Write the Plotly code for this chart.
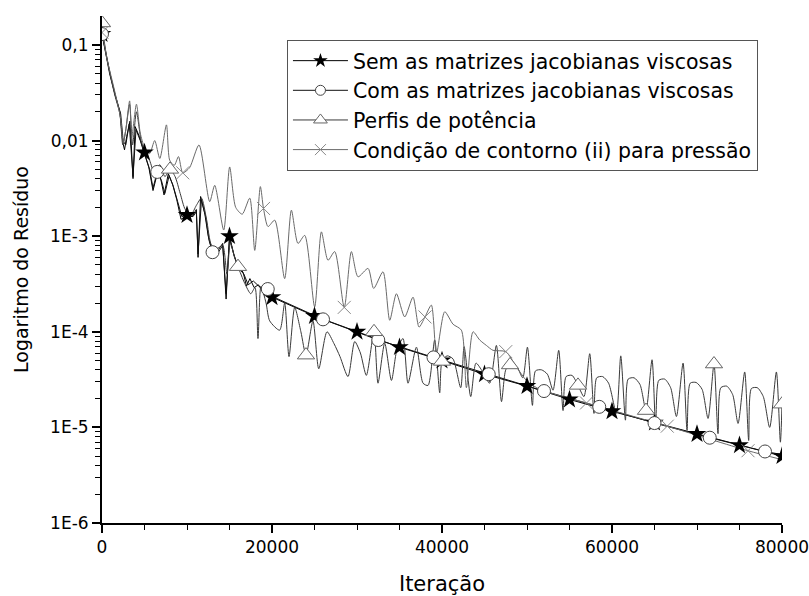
import plotly.graph_objects as go

# ---------------- data ----------------
# "Sem as matrizes jacobianas viscosas" (black line, stars)
sem_x = [0, 300, 500, 900, 1500, 2100, 2450, 2650, 2900, 3300, 3650, 3900, 4400, 5000,
         5500, 6000, 6500, 6900, 7300, 7800, 8300, 8800, 9300, 10000, 10600, 11100, 11300,
         11600, 12100, 12500, 13000, 13500, 14200, 14600, 15000, 15500, 16000, 16600, 17000,
         17400, 17900, 18400, 19000, 19500, 20000, 25000, 30000, 35000, 40000, 45000, 50000,
         55000, 60000, 65000, 70000, 75000, 80000]
sem_y = [0.13, 0.095, 0.076, 0.05, 0.031, 0.02, 0.0095, 0.008, 0.011, 0.016, 0.004, 0.014,
         0.011, 0.0075, 0.0053, 0.003, 0.0045, 0.004, 0.0027, 0.0045, 0.0035, 0.0024, 0.0015,
         0.00166, 0.0016, 0.0019, 0.0006, 0.0026, 0.0017, 0.001, 0.00068, 0.00068, 0.00084,
         0.00022, 0.001, 0.00065, 0.00048, 0.00042, 0.0003, 0.00036, 0.00029, 0.00031, 0.00026,
         0.00028, 0.00023, 1.46e-4, 1.0e-4, 6.9e-5, 5.0e-5, 3.6e-5, 2.7e-5, 1.96e-5, 1.47e-5,
         1.12e-5, 8.5e-6, 6.5e-6, 5.0e-6]
sem_mx = [0, 5000, 10000, 15000, 20000, 25000, 30000, 35000, 40000, 45000, 50000, 55000,
          60000, 65000, 70000, 75000, 80000]
sem_my = [0.13, 0.0075, 0.00166, 0.001, 2.3e-4, 1.46e-4, 1.0e-4, 6.9e-5, 5.0e-5, 3.6e-5,
          2.7e-5, 1.96e-5, 1.47e-5, 1.12e-5, 8.5e-6, 6.5e-6, 5.0e-6]

# "Com as matrizes jacobianas viscosas" (black line, circles)
com_x = [0, 300, 600, 1000, 1600, 2200, 2500, 2800, 3200, 3650, 4000, 4500, 5000, 5600,
         6000, 6500, 7000, 7400, 7900, 8400, 8900, 9400, 10000, 10700, 11100, 11300, 11700,
         12200, 12600, 13000, 13600, 14200, 14600, 15000, 15600, 16100, 16700, 17200, 17800,
         18500, 19000, 19500, 20000, 26000, 32500, 39000, 45500, 52000, 58500, 65000, 71500,
         78000, 80000]
com_y = [0.13, 0.094, 0.068, 0.048, 0.029, 0.019, 0.0098, 0.009, 0.015, 0.0042, 0.013,
         0.01, 0.0072, 0.005, 0.0032, 0.0047, 0.0038, 0.0028, 0.0043, 0.0033, 0.0023, 0.0016,
         0.0017, 0.0016, 0.0018, 0.00065, 0.0024, 0.0016, 0.0009, 0.00068, 0.00066, 0.0008,
         0.00025, 0.00095, 0.0006, 0.00046, 0.0004, 0.00031, 0.00034, 0.0003, 0.00027,
         0.00028, 2.35e-4, 1.35e-4, 8.2e-5, 5.4e-5, 3.6e-5, 2.4e-5, 1.64e-5, 1.11e-5, 7.8e-6,
         5.6e-6, 5.2e-6]
com_mx = [0, 6500, 13000, 19500, 26000, 32500, 39000, 45500, 52000, 58500, 65000, 71500,
          78000]
com_my = [0.13, 0.0047, 0.00068, 0.00028, 1.35e-4, 8.2e-5, 5.4e-5, 3.6e-5, 2.4e-5,
          1.64e-5, 1.11e-5, 7.8e-6, 5.6e-6]

# "Perfis de potência" (dark grey line, triangles)
perf_x = [0, 200, 500, 900, 1500, 2100, 2450, 2800, 3250, 3600, 4050, 4600, 5000, 5600,
          6200, 6800, 7400, 8000, 8600, 9200, 9800, 10500, 11100, 11700, 12300, 12900,
          13600, 14200, 14700, 15100, 15600, 16000, 16800, 17500, 18000, 18350, 18700,
          19300, 19730, 20900, 21490, 22000, 22670, 23400, 24000, 24820, 25500, 26470,
          27300, 28000, 28940, 29730, 30400, 31100, 32000, 32470, 33260, 34050, 34700,
          35410, 36000, 36990, 37770, 38360, 39140, 39730, 40000, 40600, 41300, 42200,
          42600, 43380, 44000, 44800, 45600, 46400, 47000, 47500, 48000, 48800, 49500,
          50050, 50640, 51000, 51700, 52400, 53060, 53730, 54240, 54600, 55300, 56000,
          56700, 57380, 57880, 58200, 58900, 59600, 60520, 61030, 61580, 61900, 62600,
          63300, 64000, 64710, 65140, 65500, 66200, 66900, 67580, 68360, 68830, 69200,
          69900, 70600, 71300, 72000, 72470, 72800, 73500, 74200, 74830, 75610, 76080,
          76400, 77100, 77800, 78550, 79340, 79810, 80000]
perf_y = [0.17, 0.12, 0.08, 0.052, 0.03, 0.019, 0.009, 0.013, 0.024, 0.009, 0.02, 0.01,
          0.0078, 0.0062, 0.0045, 0.0056, 0.0042, 0.005, 0.0042, 0.0028, 0.0019, 0.0017,
          0.0021, 0.0025, 0.0015, 0.0008, 0.00075, 0.0008, 0.0004, 0.00085, 0.0006, 0.00048,
          0.00032, 0.00025, 0.00029, 8.5e-5, 0.0003, 0.0002, 0.00013, 1.04e-4, 2.0e-4,
          5.5e-5, 1.8e-4, 1.0e-4, 5.7e-5, 1.3e-4, 4.1e-5, 1.0e-4, 7.5e-5, 5.5e-5, 3.4e-5,
          7.9e-5, 6.0e-5, 3.5e-5, 1.0e-4, 2.9e-5, 7.6e-5, 3.1e-5, 6.5e-5, 8.5e-5, 2.9e-5,
          6.9e-5, 2.9e-5, 2.75e-5, 8.2e-5, 2.3e-5, 4.9e-5, 5.6e-5, 5.2e-5, 2.6e-5, 7.0e-5,
          2.1e-5, 4.7e-5, 3.8e-5, 2.9e-5, 7.2e-5, 1.86e-5, 4.0e-5, 4.5e-5, 4.3e-5, 3.3e-5,
          6.9e-5, 1.7e-5, 3.9e-5, 4.0e-5, 3.6e-5, 2.45e-5, 6.4e-5, 1.5e-5, 3.4e-5, 3.5e-5,
          2.75e-5, 2.1e-5, 5.9e-5, 1.4e-5, 3.3e-5, 3.4e-5, 2.9e-5, 1.4e-5, 5.6e-5, 1.19e-5,
          3.2e-5, 3.3e-5, 2.8e-5, 1.5e-5, 5.1e-5, 1.0e-5, 3.1e-5, 3.2e-5, 2.6e-5, 1.3e-5,
          4.7e-5, 9.3e-6, 2.9e-5, 2.95e-5, 2.5e-5, 1.24e-5, 4.6e-5, 8.6e-6, 2.6e-5, 2.7e-5,
          2.2e-5, 1.1e-5, 3.8e-5, 7.3e-6, 2.55e-5, 2.6e-5, 2.1e-5, 1.0e-5, 3.8e-5, 7.0e-6,
          1.75e-5]
perf_mx = [0, 8000, 16000, 24000, 32000, 40000, 48000, 56000, 64000, 72000, 80000]
perf_my = [0.17, 0.005, 0.00048, 5.7e-5, 1.0e-4, 4.9e-5, 4.5e-5, 2.75e-5, 1.5e-5, 4.6e-5,
           1.75e-5]

# "Condição de contorno (ii) para pressão" (grey line, crosses)
cond_x = [0, 300, 600, 1000, 1600, 2200, 2500, 2800, 3250, 3500, 4050, 4500, 5000, 5600,
          6200, 6800, 7580, 7960, 8500, 9000, 9500, 10300, 11410, 12670, 13260, 14320,
          15020, 15730, 16500, 17380, 17970, 18630, 19000, 19530, 20320, 21490, 22280,
          23060, 23850, 25020, 25810, 26590, 27380, 28500, 29340, 30120, 31300, 31960,
          33060, 33850, 34640, 35610, 36590, 37300, 38000, 38750, 39340, 40320, 41300,
          42280, 42870, 43650, 44440, 45220, 46000, 47500, 48750, 49930, 51500, 57000,
          66500, 76000, 80000]
cond_y = [0.135, 0.1, 0.07, 0.05, 0.03, 0.017, 0.0095, 0.013, 0.026, 0.011, 0.024, 0.012,
          0.0085, 0.0073, 0.01, 0.0065, 0.0146, 0.00625, 0.0055, 0.0068, 0.0046, 0.0052,
          0.009, 0.0023, 0.0034, 0.00116, 0.0053, 0.002, 0.0017, 0.0025, 0.00071, 0.0033,
          0.00195, 0.00126, 0.00147, 0.00036, 0.00187, 0.00084, 0.00102, 0.000182, 0.00111,
          0.00056, 0.00069, 0.00018, 0.00069, 0.000376, 0.00046, 0.000284, 0.000424,
          0.000132, 0.00025, 0.000143, 0.00023, 0.000112, 0.000143, 0.00019, 5.9e-5,
          0.000162, 0.00012, 0.000104, 2.6e-5, 0.0001, 8.2e-5, 7.2e-5, 6.4e-5, 6.2e-5,
          4.3e-5, 3.1e-5, 2.5e-5, 1.8e-5, 1.03e-5, 5.7e-6, 4.6e-6]
cond_mx = [0, 9500, 19000, 28500, 38000, 47500, 57000, 66500, 76000]
cond_my = [0.135, 0.0046, 0.00195, 0.00018, 0.000143, 6.2e-5, 1.8e-5, 1.03e-5, 5.7e-6]

names = ["Sem as matrizes jacobianas viscosas",
         "Com as matrizes jacobianas viscosas",
         "Perfis de potência",
         "Condição de contorno (ii) para pressão"]

y_tickvals = [1e-6, 1e-5, 1e-4, 1e-3, 1e-2, 1e-1]
y_ticktext = ["1E-6", "1E-5", "1E-4", "1E-3", "0,01", "0,1"]
x_tickvals = [0, 20000, 40000, 60000, 80000]

# ---------------- figure ----------------
FONT = "DejaVu Sans, Arial, sans-serif"
series = [
    (sem_x, sem_y, sem_mx, sem_my, "#000000", "linear",
     dict(symbol="star", size=14, color="#000000", line=dict(width=0)),
     dict(symbol="star", size=11, color="#000000", line=dict(width=0))),
    (com_x, com_y, com_mx, com_my, "#111111", "linear",
     dict(symbol="circle", size=13, color="white", line=dict(width=1, color="#444444")),
     dict(symbol="circle", size=10, color="white", line=dict(width=1, color="#444444"))),
    (perf_x, perf_y, perf_mx, perf_my, "#3a3a3a", "spline",
     dict(symbol="triangle-up", size=15, color="white", line=dict(width=1, color="#666666")),
     dict(symbol="triangle-up", size=12, color="white", line=dict(width=1, color="#666666"))),
    (cond_x, cond_y, cond_mx, cond_my, "#6a6a6a", "spline",
     dict(symbol="x-thin", size=13, color="#888888", line=dict(width=1, color="#888888")),
     dict(symbol="x-thin", size=11, color="#888888", line=dict(width=1, color="#888888"))),
]

fig = go.Figure()
for (lx, ly, mx, my, lc, shp, mk, lmk), nm in zip(series, names):
    fig.add_trace(go.Scatter(x=lx, y=ly, mode="lines",
                             line=dict(color=lc, width=1, shape=shp, smoothing=0.7),
                             showlegend=False, hoverinfo="skip"))
for (lx, ly, mx, my, lc, shp, mk, lmk), nm in zip(series, names):
    fig.add_trace(go.Scatter(x=mx, y=my, mode="markers", marker=mk, showlegend=False))
for (lx, ly, mx, my, lc, shp, mk, lmk), nm in zip(series, names):
    fig.add_trace(go.Scatter(x=[None], y=[None], mode="lines+markers", name=nm,
                             line=dict(color=lc, width=1), marker=lmk))

fig.update_layout(
    width=809, height=596,
    margin=dict(l=102, r=27, t=16, b=73),
    paper_bgcolor="white", plot_bgcolor="white",
    font=dict(family=FONT, color="black"),
    legend=dict(x=0.272, y=0.953, xanchor="left", yanchor="top",
                bgcolor="white", bordercolor="#555555", borderwidth=1,
                font=dict(size=20.5, family=FONT), itemwidth=55,
                tracegroupgap=0),
)
fig.update_xaxes(
    range=[0, 80000], showgrid=False, zeroline=False, automargin=False,
    showline=True, linecolor="black", linewidth=2,
    ticks="outside", ticklen=8, tickwidth=1.5, tickcolor="black",
    tickmode="array", tickvals=x_tickvals, ticktext=[str(v) for v in x_tickvals],
    tickfont=dict(size=17, family=FONT), ticklabeloverflow="allow",
    minor=dict(ticks="outside", ticklen=5, tickwidth=1.2, tickcolor="black", dtick=5000),
    title=dict(text="Iteração", font=dict(size=21, family=FONT), standoff=20),
)
fig.update_yaxes(
    type="log", range=[-6, -0.697], showgrid=False, zeroline=False, automargin=False,
    showline=True, linecolor="black", linewidth=2,
    ticks="outside", ticklen=8, tickwidth=1.5, tickcolor="black",
    tickmode="array", tickvals=y_tickvals, ticktext=y_ticktext,
    tickfont=dict(size=17, family=FONT),
    minor=dict(ticks="outside", ticklen=5, tickwidth=1.2, tickcolor="black",
               tickmode="array",
               tickvals=[m * d for d in y_tickvals for m in range(2, 10) if m * d < 0.2]),
    title=dict(text="Logaritmo do Resíduo", font=dict(size=19, family=FONT), standoff=16),
)

fig.write_html("out.html")
